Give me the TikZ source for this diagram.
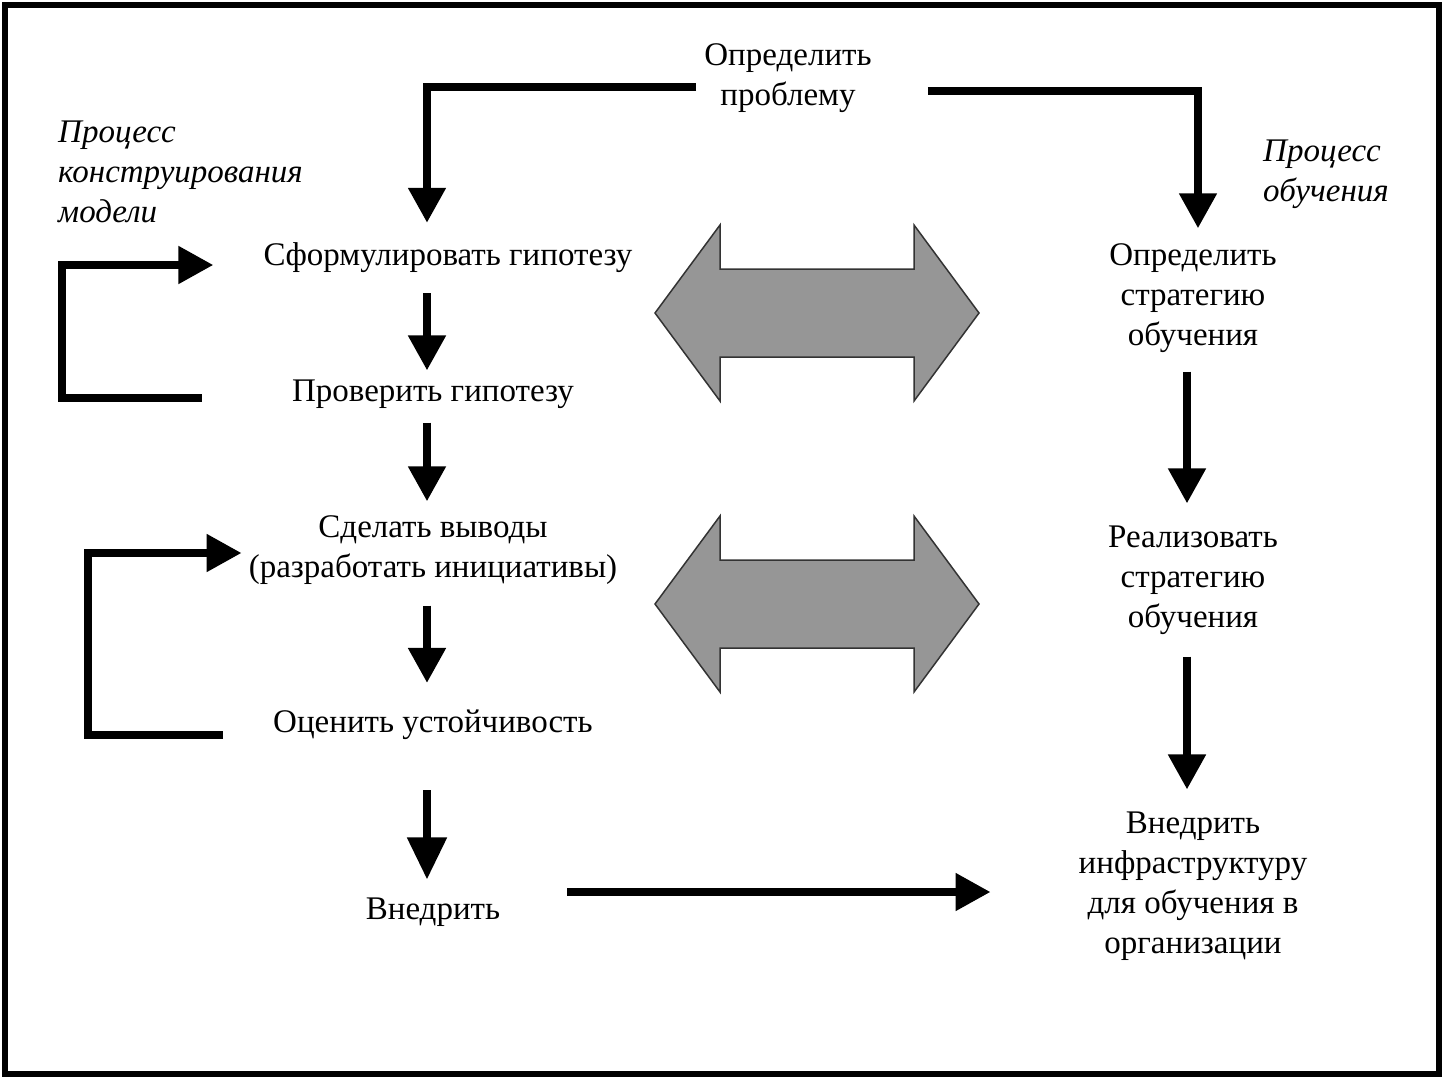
\documentclass[tikz,border=0pt]{standalone}
\usepackage{fontspec}
\setmainfont{Liberation Serif}
\usepackage{tikz}
\usetikzlibrary{calc}
\usetikzlibrary{arrows.meta}
\tikzset{
	stage/.style={
		font=\fontsize{33}{40}\selectfont, align=center, inner sep=0pt
	},
	process/.style={
		font=\fontsize{33}{40}\selectfont\itshape, align=left, inner sep=0pt, anchor=north west
	},
	flow/.style={
		line width=8pt, -{Triangle[width=36pt,length=35pt]}
	},
	big flow/.style={
		line width=8pt, -{Triangle[width=38pt,length=42pt]}
	},
	exchange/.style={
		draw=black!80, line width=1.5pt, fill=black!41
	}
}
\def\exchangearrow#1{\draw[exchange] (#1) ++(-162,0) -- ++(65,-88) -- ++(0,44) -- ++(194,0) -- ++(0,-44) -- ++(65,88) -- ++(-65,88) -- ++(0,-44) -- ++(-194,0) -- ++(0,44) -- cycle;}

\begin{document}
\begin{tikzpicture}[x=1pt, y=-1pt]
	\useasboundingbox (0,0) rectangle (1448,1081);
	\draw[line width=6pt] (5,5) rectangle (1439,1074);

	\coordinate (Main-axis) at (427,0);
	\coordinate (Side-axis) at (1187,0);
	\coordinate (Learn-axis) at (1198,0);

	\node[stage] (Problem) at (788,78) {Определить\\проблему};
	\node[process] (Model-process) at (58,121) {Процесс\\конструирования\\модели};
	\node[process] (Learn-process) at (1263,140) {Процесс\\обучения};

	\node[stage] (Hypothesis) at (448,258) {Сформулировать гипотезу};
	\node[stage] (Check) at (433,394) {Проверить гипотезу};
	\node[stage] (Conclusions) at (433,550) {Сделать выводы\\(разработать инициативы)};
	\node[stage] (Stability) at (433,725) {Оценить устойчивость};
	\node[stage] (Implement) at (433,912) {Внедрить};

	\node[stage] (Strategy) at (1193,298) {Определить\\стратегию\\обучения};
	\node[stage] (Realize) at (1193,580) {Реализовать\\стратегию\\обучения};
	\node[stage] (Infrastructure) at (1193,886) {Внедрить\\инфраструктуру\\для обучения в\\организации};

	\coordinate (Swap-top) at (817,313);
	\coordinate (Swap-bottom) at (817,604);
	\exchangearrow{Swap-top}
	\exchangearrow{Swap-bottom}

	% problem splits into both processes
	\draw[flow, shorten >=20pt] ([xshift=-8pt,yshift=-9pt]Problem.west) -| (Hypothesis.north -| Main-axis);
	\draw[flow, shorten >=15pt] ([xshift=56pt,yshift=-13pt]Problem.east) -| (Strategy.north -| Learn-axis);

	% model process
	\draw[flow, shorten <=20pt, shorten >=9pt] (Hypothesis.south -| Main-axis) -- (Check.north -| Main-axis);
	\draw[flow, shorten <=14pt, shorten >=14pt] (Check.south -| Main-axis) -- (Conclusions.north -| Main-axis);
	\draw[flow, shorten <=21pt, shorten >=27pt] (Conclusions.south -| Main-axis) -- (Stability.north -| Main-axis);
	\draw[big flow, shorten <=50pt, shorten >=18pt] (Stability.south -| Main-axis) -- (Implement.north -| Main-axis);
	\draw[flow] ([xshift=-90pt,yshift=-4pt]Check.west) -- ++(-140pt,0pt) |- ([xshift=-50pt,yshift=-7pt]Hypothesis.west);
	\draw[flow] ([xshift=-50pt,yshift=-10pt]Stability.west) -- ++(-135pt,0pt) |- ([xshift=-7pt,yshift=-3pt]Conclusions.west);

	% learning process
	\draw[flow, shorten <=19pt, shorten >=22pt] (Strategy.south -| Side-axis) -- (Realize.north -| Side-axis);
	\draw[flow, shorten <=22pt, shorten >=22pt] (Realize.south -| Side-axis) -- (Infrastructure.north -| Side-axis);

	\coordinate (Implement-out) at ([xshift=67pt,yshift=20pt]Implement.east);
	\draw[flow, shorten >=88pt] (Implement-out) -- (Implement-out -| Infrastructure.west);
\end{tikzpicture}
\end{document}
